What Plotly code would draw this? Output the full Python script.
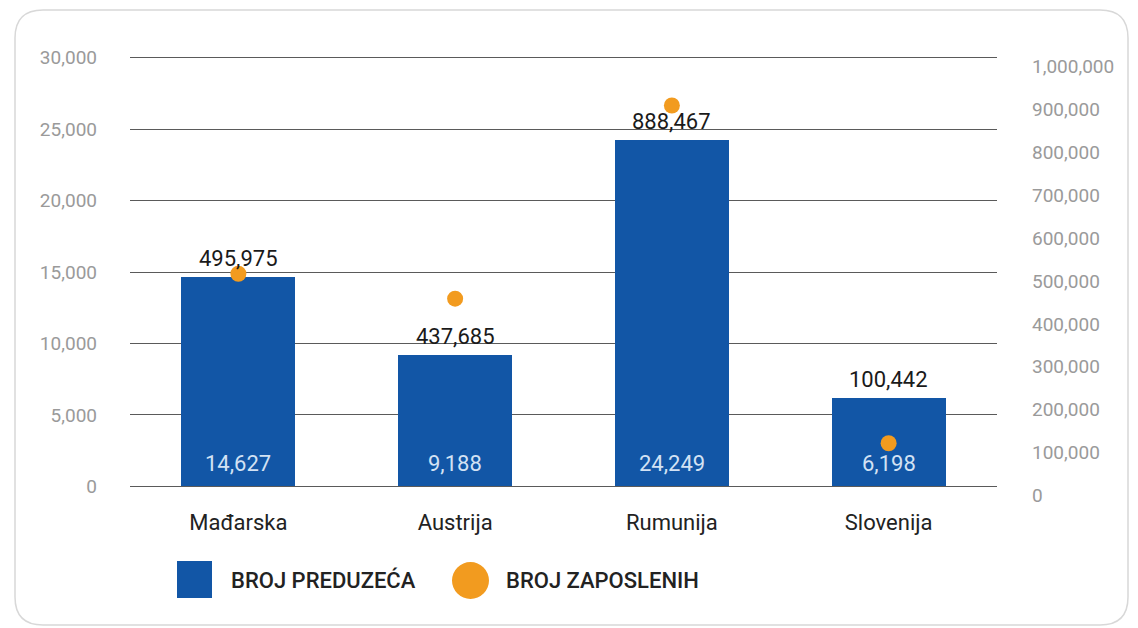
import plotly.graph_objects as go

countries = ["Mađarska", "Austrija", "Rumunija", "Slovenija"]
firms = [14627, 9188, 24249, 6198]
employees = [495975, 437685, 888467, 100442]
left_ticks = [0, 5000, 10000, 15000, 20000, 25000, 30000]
right_ticks = [0, 100000, 200000, 300000, 400000, 500000, 600000, 700000, 800000, 900000, 1000000]
legend_names = ["BROJ PREDUZEĆA", "BROJ ZAPOSLENIH"]

BLUE = "#1256a6"
ORANGE = "#f29b1f"
FONT = "Roboto"

# page offset (body margin of the html page)
OFF = 8

fig = go.Figure()
fig.add_trace(go.Bar(x=countries, y=firms, marker=dict(color=BLUE, line=dict(width=0)),
                     width=0.525, name=legend_names[0], hoverinfo="x+y"))
fig.add_trace(go.Scatter(x=countries, y=employees, yaxis="y2", mode="markers",
                         marker=dict(color=ORANGE, size=16, line=dict(width=0)),
                         name=legend_names[1]))


def fmt(v):
    return f"{v:,}"


ann = []
for c, f, e in zip(countries, firms, employees):
    ann.append(dict(x=c, y=f, xref="x", yref="y", text=fmt(e), showarrow=False,
                    yanchor="bottom", yshift=4,
                    font=dict(family=FONT, size=22, color="#1a1a1a")))
    ann.append(dict(x=c, y=0, xref="x", yref="y", text=fmt(f), showarrow=False,
                    yanchor="bottom", yshift=8,
                    font=dict(family=FONT, size=22, color="#d3e2f4")))


# page-pixel -> paper coordinates (plot area spans x 130..997, y 56..488 on the page)
def px(x):
    return (x - 130) / 867


def py(y):
    return (488 - y) / 432


ann.append(dict(x=px(229), y=py(580), xref="paper", yref="paper",
                text=legend_names[0], showarrow=False, xanchor="left", yanchor="middle",
                font=dict(family=FONT, size=22, color="#222", weight=500)))
ann.append(dict(x=px(504), y=py(580), xref="paper", yref="paper",
                text=legend_names[1], showarrow=False, xanchor="left", yanchor="middle",
                font=dict(family=FONT, size=22, color="#222", weight=500)))

shapes = [
    dict(type="rect", xref="paper", yref="paper", x0=px(177), x1=px(212), y0=py(598), y1=py(561),
         fillcolor=BLUE, line=dict(width=0)),
    dict(type="circle", xref="paper", yref="paper", x0=px(452), x1=px(489), y0=py(599), y1=py(562),
         fillcolor=ORANGE, line=dict(width=0)),
]
# card border with rounded corners
L, R, T, B, r = 15, 1128, 10, 625, 28
path = (f"M {px(L + r)},{py(T)} L {px(R - r)},{py(T)} Q {px(R)},{py(T)} {px(R)},{py(T + r)} "
        f"L {px(R)},{py(B - r)} Q {px(R)},{py(B)} {px(R - r)},{py(B)} "
        f"L {px(L + r)},{py(B)} Q {px(L)},{py(B)} {px(L)},{py(B - r)} "
        f"L {px(L)},{py(T + r)} Q {px(L)},{py(T)} {px(L + r)},{py(T)} Z")
shapes.append(dict(type="path", xref="paper", yref="paper", path=path,
                   line=dict(color="#d8d8d8", width=1.5), layer="below"))

fig.update_layout(
    width=1138 - OFF, height=628 - OFF,
    margin=dict(l=130 - OFF, r=141, t=56 - OFF, b=140),
    paper_bgcolor="white", plot_bgcolor="white",
    showlegend=False,
    bargap=0,
    font=dict(family=FONT),
    xaxis=dict(showgrid=False, showline=False, ticks="", zeroline=False,
               tickfont=dict(family=FONT, size=22, color="#222"), ticklabelstandoff=19),
    yaxis=dict(range=[-120, 30120], tickvals=left_ticks, tickformat=",d",
               showgrid=True, gridcolor="#5a5a5a", gridwidth=1, zeroline=False,
               showline=False, ticks="",
               tickfont=dict(family=FONT, size=19, color="#9a9a9a"), ticklabelstandoff=32),
    yaxis2=dict(range=[-4000, 1004000], tickvals=right_ticks, tickformat=",d", overlaying="y",
                side="right", showgrid=False, zeroline=False, showline=False, ticks="",
                tickfont=dict(family=FONT, size=19, color="#9a9a9a"), ticklabelstandoff=34,
                ticklabelshift=9),
    annotations=ann,
    shapes=shapes,
)

fig.write_html("out.html")
